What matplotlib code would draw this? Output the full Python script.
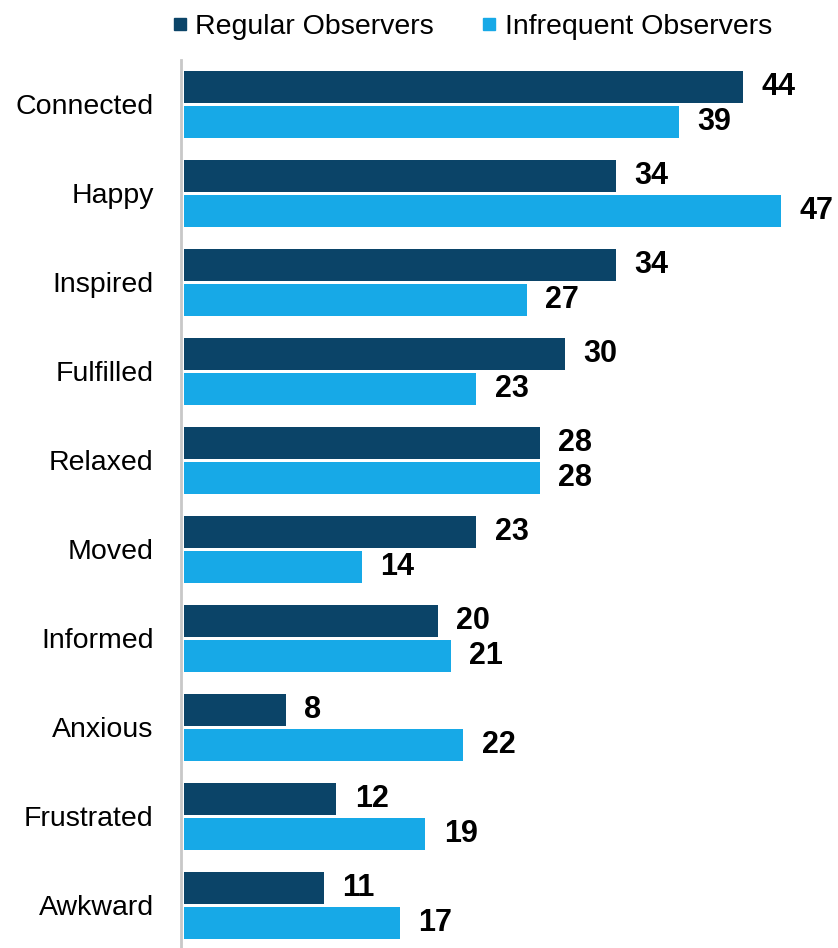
import numpy as np
import matplotlib.pyplot as plt
from matplotlib.lines import Line2D

plt.rcParams['font.family'] = ['Liberation Sans', 'DejaVu Sans']

# Feelings reported by observers (percent)
feelings = ['Connected', 'Happy', 'Inspired', 'Fulfilled', 'Relaxed',
            'Moved', 'Informed', 'Anxious', 'Frustrated', 'Awkward']
regular = [44, 34, 34, 30, 28, 23, 20, 8, 12, 11]
infrequent = [39, 47, 27, 23, 28, 14, 21, 22, 19, 17]

dark = '#0b4468'
light = '#17a9e7'

fig = plt.figure(figsize=(8.38, 9.48), dpi=100)
ax = fig.add_axes([0.2196, 0.0, 0.7804, 0.9367])

y = np.arange(len(feelings))
off = 0.196
h = 0.36
ax.barh(y - off, regular, height=h, color=dark)
ax.barh(y + off, infrequent, height=h, color=light)

for yi, v in zip(y, regular):
    ax.text(v + 1.45, yi - off, str(v), va='center', ha='left',
            fontsize=22, fontweight='bold')
for yi, v in zip(y, infrequent):
    ax.text(v + 1.45, yi + off, str(v), va='center', ha='left',
            fontsize=22, fontweight='bold')

ax.set_xlim(0, 51.5)
ax.set_ylim(9.48, -0.50)
ax.set_yticks(y)
ax.set_yticklabels(feelings)
ax.tick_params(axis='y', length=0, pad=20, labelsize=20.5)
ax.set_xticks([])
for s in ['top', 'right', 'bottom']:
    ax.spines[s].set_visible(False)
ax.spines['left'].set_color('#c8c8c8')
ax.spines['left'].set_linewidth(2)
ax.spines['left'].set_position(('data', -0.2))

handles = [Line2D([], [], marker='s', color='none', markerfacecolor=c,
                  markeredgecolor=c, markersize=8.5) for c in (dark, light)]
fig.legend(handles, ['Regular Observers', 'Infrequent Observers'],
           loc='upper center', bbox_to_anchor=(0.562, 1.012), ncol=2,
           frameon=False, fontsize=20.5, handletextpad=0.2,
           columnspacing=1.6, handlelength=0.7)

fig.savefig('out.png', dpi=100)
